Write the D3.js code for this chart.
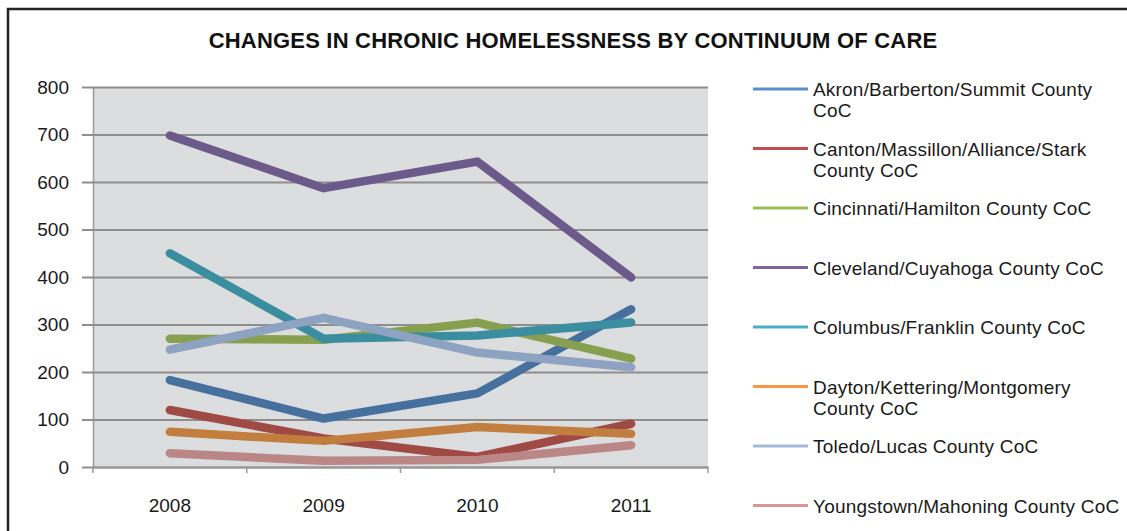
<!DOCTYPE html>
<html>
<head>
<meta charset="utf-8">
<script src="https://cdn.jsdelivr.net/npm/d3@7"></script>
<style>
  html, body { margin: 0; padding: 0; background: #fff; }
  svg { display: block; font-family: "Liberation Sans", Arial, sans-serif; }
</style>
</head>
<body>
<svg id="chart" width="1127" height="531"></svg>
<script>
// Point-in-time counts of chronically homeless people, by Continuum of Care
const years = ["2008", "2009", "2010", "2011"];
const yTicks = [0, 100, 200, 300, 400, 500, 600, 700, 800];

const akron      = [183, 102, 155, 332];
const canton     = [120, 60, 21, 91];
const cincinnati = [270, 268, 304, 228];
const cleveland  = [698, 587, 643, 399];
const columbus   = [450, 270, 277, 304];
const dayton     = [74, 55, 84, 70];
const toledo     = [247, 314, 241, 210];
const youngstown = [29, 13, 15, 46];

const seriesNames = [
  ["Akron/Barberton/Summit County", "CoC"],
  ["Canton/Massillon/Alliance/Stark", "County CoC"],
  ["Cincinnati/Hamilton County CoC"],
  ["Cleveland/Cuyahoga County CoC"],
  ["Columbus/Franklin County CoC"],
  ["Dayton/Kettering/Montgomery", "County CoC"],
  ["Toledo/Lucas County CoC"],
  ["Youngstown/Mahoning County CoC"]
];
const seriesValues = [akron, canton, cincinnati, cleveland, columbus, dayton, toledo, youngstown];
const lineColors   = ["#46709e", "#a04a46", "#87a04f", "#6b5a8a", "#3a8e9f", "#c27e3e", "#8ea2c1", "#ba8786"];
const legendColors = ["#5b8dc9", "#c0504d", "#9bbb59", "#8064a2", "#4bacc6", "#f79646", "#a4b9d9", "#d99694"];

const series = seriesNames.map((name, i) => ({
  name, values: seriesValues[i], line: lineColors[i], key: legendColors[i]
}));

const svg = d3.select("#chart");

// outer frame
svg.append("rect")
  .attr("x", 8).attr("y", 9)
  .attr("width", 1140).attr("height", 540)
  .attr("fill", "#fff").attr("stroke", "#222").attr("stroke-width", 2.5);

// title
svg.append("text")
  .attr("x", 573).attr("y", 48)
  .attr("text-anchor", "middle")
  .attr("font-size", 22).attr("font-weight", "bold").attr("fill", "#111")
  .attr("letter-spacing", 0.2)
  .text("CHANGES IN CHRONIC HOMELESSNESS BY CONTINUUM OF CARE");

const plot = { left: 93, right: 708, top: 87, bottom: 467 };

const x = d3.scaleBand().domain(years).range([plot.left, plot.right]);
const y = d3.scaleLinear().domain([0, 800]).range([plot.bottom, plot.top]);

// plot background
svg.append("rect")
  .attr("x", plot.left).attr("y", plot.top)
  .attr("width", plot.right - plot.left).attr("height", plot.bottom - plot.top)
  .attr("fill", "#dcdddf");

// y axis with full-width gridlines
const yAxis = svg.append("g")
  .attr("transform", `translate(${plot.left},0)`)
  .call(d3.axisLeft(y).tickValues(yTicks)
    .tickSize(-(plot.right - plot.left)).tickSizeOuter(0).tickPadding(24));
yAxis.select(".domain").attr("stroke", "#999").attr("stroke-width", 1.5);
yAxis.selectAll(".tick line")
  .attr("x1", -11)
  .attr("stroke", "#8e8e8e").attr("stroke-width", 1.8);
yAxis.selectAll(".tick text")
  .attr("font-size", 19).attr("fill", "#1a1a1a")
  .attr("font-family", "Liberation Sans, Arial, sans-serif");

// x axis with boundary ticks between categories
const xAxis = svg.append("g")
  .attr("transform", `translate(0,${plot.bottom})`)
  .call(d3.axisBottom(x).tickSize(0).tickPadding(32));
xAxis.select(".domain").attr("stroke", "#999").attr("stroke-width", 1.8);
xAxis.selectAll(".tick text")
  .attr("font-size", 19).attr("fill", "#1a1a1a")
  .attr("font-family", "Liberation Sans, Arial, sans-serif");
const bounds = years.map(d => x(d)).concat([x(years[years.length - 1]) + x.bandwidth()]);
xAxis.selectAll("line.bound").data(bounds).enter().append("line")
  .attr("class", "bound")
  .attr("x1", d => d).attr("x2", d => d)
  .attr("y1", 0).attr("y2", 6)
  .attr("stroke", "#999").attr("stroke-width", 1.5);

// series lines
const line = d3.line()
  .x((d, i) => x(years[i]) + x.bandwidth() / 2)
  .y(d => y(d));

svg.append("g").selectAll("path").data(series).enter().append("path")
  .attr("d", d => line(d.values))
  .attr("fill", "none")
  .attr("stroke", d => d.line)
  .attr("stroke-width", 8.5)
  .attr("stroke-linecap", "round")
  .attr("stroke-linejoin", "round");

// legend
const legend = svg.append("g");
const entry = legend.selectAll("g").data(series).enter().append("g")
  .attr("transform", (d, i) => `translate(753,${89 + i * 59.5})`);
entry.append("line")
  .attr("x1", 0).attr("x2", 55).attr("y1", 0).attr("y2", 0)
  .attr("stroke", d => d.key).attr("stroke-width", 2.8);
entry.append("text")
  .attr("x", 60).attr("y", 7)
  .attr("font-size", 19).attr("fill", "#1a1a1a")
  .attr("letter-spacing", 0.2)
  .selectAll("tspan").data(d => d.name).enter().append("tspan")
  .attr("x", 60).attr("dy", (d, i) => i === 0 ? 0 : 21)
  .text(d => d);
</script>
</body>
</html>
